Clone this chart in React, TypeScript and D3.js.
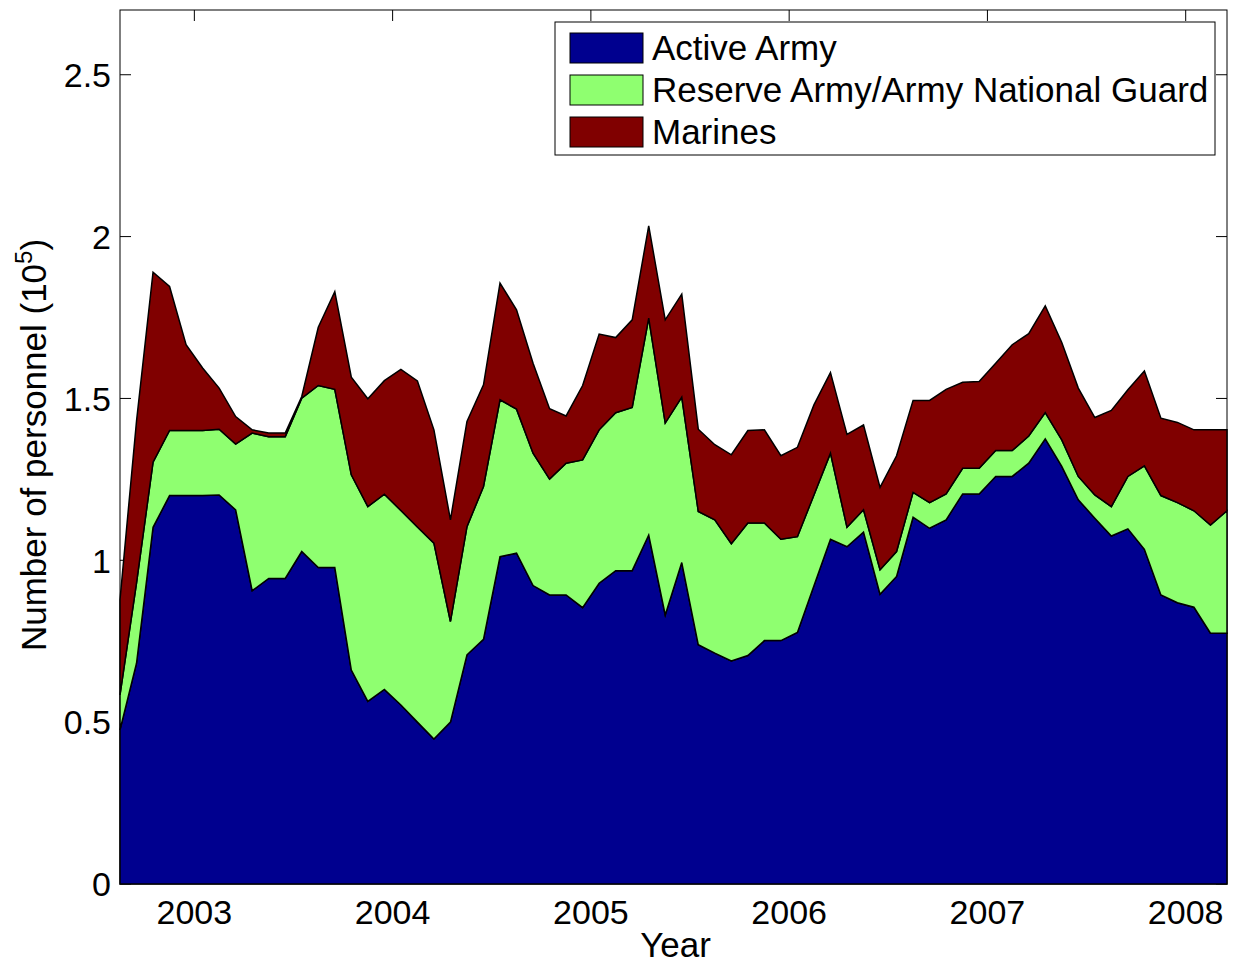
import React from "react";
import * as d3 from "d3";

// Monthly data, Aug 2002 .. Mar 2008 (units of 10^5 personnel)
const startMonth = new Date(2002, 7, 1);
const endMonth = new Date(2008, 3, 1);

const activeArmy = [
  0.476, 0.682, 1.102, 1.2, 1.2, 1.2, 1.202, 1.156, 0.906, 0.944, 0.944, 1.027,
  0.978, 0.978, 0.661, 0.564, 0.601, 0.553, 0.5, 0.448, 0.5, 0.708, 0.756, 1.011,
  1.022, 0.922, 0.893, 0.893, 0.854, 0.929, 0.968, 0.968, 1.078, 0.831, 0.993, 0.739,
  0.713, 0.689, 0.706, 0.752, 0.752, 0.777, 0.921, 1.065, 1.042, 1.087, 0.895, 0.95,
  1.133, 1.099, 1.125, 1.205, 1.205, 1.259, 1.259, 1.3, 1.375, 1.29, 1.187, 1.13,
  1.075, 1.097, 1.034, 0.893, 0.869, 0.855, 0.775, 0.775,
];

const reserveArmy = [
  0.108, 0.248, 0.201, 0.201, 0.201, 0.201, 0.203, 0.203, 0.487, 0.438, 0.438, 0.474,
  0.562, 0.55, 0.603, 0.602, 0.603, 0.601, 0.603, 0.605, 0.311, 0.396, 0.472, 0.485,
  0.445, 0.409, 0.358, 0.407, 0.456, 0.474, 0.488, 0.504, 0.67, 0.593, 0.511, 0.412,
  0.412, 0.362, 0.409, 0.363, 0.313, 0.296, 0.281, 0.266, 0.06, 0.069, 0.076, 0.077,
  0.077, 0.079, 0.08, 0.079, 0.079, 0.08, 0.08, 0.084, 0.081, 0.082, 0.072, 0.072,
  0.091, 0.162, 0.258, 0.307, 0.309, 0.298, 0.334, 0.378,
];

const marines = [
  0.294, 0.5, 0.587, 0.445, 0.265, 0.193, 0.127, 0.085, 0.01, 0.011, 0.011, 0.005,
  0.18, 0.302, 0.302, 0.333, 0.351, 0.436, 0.451, 0.35, 0.314, 0.325, 0.314, 0.36,
  0.307, 0.278, 0.217, 0.146, 0.23, 0.296, 0.232, 0.271, 0.285, 0.319, 0.318, 0.254,
  0.232, 0.275, 0.286, 0.288, 0.258, 0.276, 0.278, 0.249, 0.287, 0.262, 0.254, 0.296,
  0.284, 0.316, 0.323, 0.266, 0.268, 0.27, 0.327, 0.316, 0.33, 0.301, 0.273, 0.239,
  0.297, 0.268, 0.293, 0.239, 0.248, 0.25, 0.294, 0.25,
];

const seriesNames = ["Active Army", "Reserve Army/Army National Guard", "Marines"];
const seriesColors = ["#00008F", "#8FFF70", "#800000"];
const yTicks = [0, 0.5, 1, 1.5, 2, 2.5];
const yTickLabels = ["0", "0.5", "1", "1.5", "2", "2.5"];
const xTickYears = [2003, 2004, 2005, 2006, 2007, 2008];

const W = 1234;
const H = 967;
const L = 120;
const R = 1227;
const T = 10;
const B = 884;
const FONT = "'Liberation Sans', Arial, Helvetica, sans-serif";

function frac(d: Date) {
  return d.getFullYear() + (d.getMonth() + 0.5) / 12;
}

export default function App() {
  const months = d3.timeMonth.range(startMonth, endMonth);
  const rows = months.map((m, i) => ({
    date: m,
    active: activeArmy[i],
    reserve: reserveArmy[i],
    marines: marines[i],
  }));
  const keys = ["active", "reserve", "marines"];
  const stacked = d3.stack<any>().keys(keys)(rows);

  const x = d3
    .scaleLinear()
    .domain([frac(months[0]), frac(months[months.length - 1])])
    .range([L, R]);
  const y = d3.scaleLinear().domain([0, 2.7]).range([B, T]);

  const area = d3
    .area<any>()
    .x((d) => x(frac(d.data.date)))
    .y0((d) => y(d[0]))
    .y1((d) => y(d[1]));

  const tickLen = 11;
  const fsTick = 34;
  const fsLabel = 35;
  const fsLegend = 35;

  return (
    <svg
      width={W}
      height={H}
      style={{ position: "absolute", left: 0, top: 0, background: "#fff" }}
      fontFamily={FONT}
    >
      <rect x={0} y={0} width={W} height={H} fill="#fff" />
      {/* axes box and ticks (drawn beneath the areas) */}
      <g stroke="#000" strokeWidth={1} fill="none">
        <rect x={L} y={T} width={R - L} height={B - T} />
        {yTicks.map((t) => (
          <g key={"yt" + t}>
            <line x1={L} x2={L + tickLen} y1={y(t)} y2={y(t)} />
            <line x1={R} x2={R - tickLen} y1={y(t)} y2={y(t)} />
          </g>
        ))}
        {xTickYears.map((yr) => (
          <g key={"xt" + yr}>
            <line x1={x(yr)} x2={x(yr)} y1={B} y2={B - tickLen} />
            <line x1={x(yr)} x2={x(yr)} y1={T} y2={T + tickLen} />
          </g>
        ))}
      </g>

      {/* stacked areas */}
      <g>
        {stacked.map((s, i) => (
          <path
            key={s.key}
            d={area(s as any) || ""}
            fill={seriesColors[i]}
            stroke="#000"
            strokeWidth={1.5}
            strokeLinejoin="miter"
          />
        ))}
      </g>

      {/* tick labels */}
      <g fontSize={fsTick} fill="#000">
        {yTicks.map((t, i) => (
          <text key={"yl" + t} x={111} y={y(t)} dy="0.36em" textAnchor="end">
            {yTickLabels[i]}
          </text>
        ))}
        {xTickYears.map((yr) => (
          <text key={"xl" + yr} x={x(yr)} y={924} textAnchor="middle">
            {String(yr)}
          </text>
        ))}
      </g>

      {/* axis labels */}
      <text x={(L + R) / 2 + 2} y={957} textAnchor="middle" fontSize={fsLabel}>
        Year
      </text>
      <text
        transform={`translate(46, ${(T + B) / 2 - 2}) rotate(-90)`}
        textAnchor="middle"
        fontSize={fsLabel}
      >
        Number of personnel (10
        <tspan fontSize={24} dy={-14}>
          5
        </tspan>
        <tspan dy={14}>)</tspan>
      </text>

      {/* legend */}
      <g>
        <rect x={555} y={22} width={660} height={133} fill="#fff" stroke="#000" strokeWidth={1} />
        {seriesNames.map((name, i) => (
          <g key={name}>
            <rect
              x={570}
              y={33 + i * 42}
              width={73}
              height={30}
              fill={seriesColors[i]}
              stroke="#000"
              strokeWidth={1}
            />
            <text x={652} y={60 + i * 42} fontSize={fsLegend}>
              {name}
            </text>
          </g>
        ))}
      </g>
    </svg>
  );
}
